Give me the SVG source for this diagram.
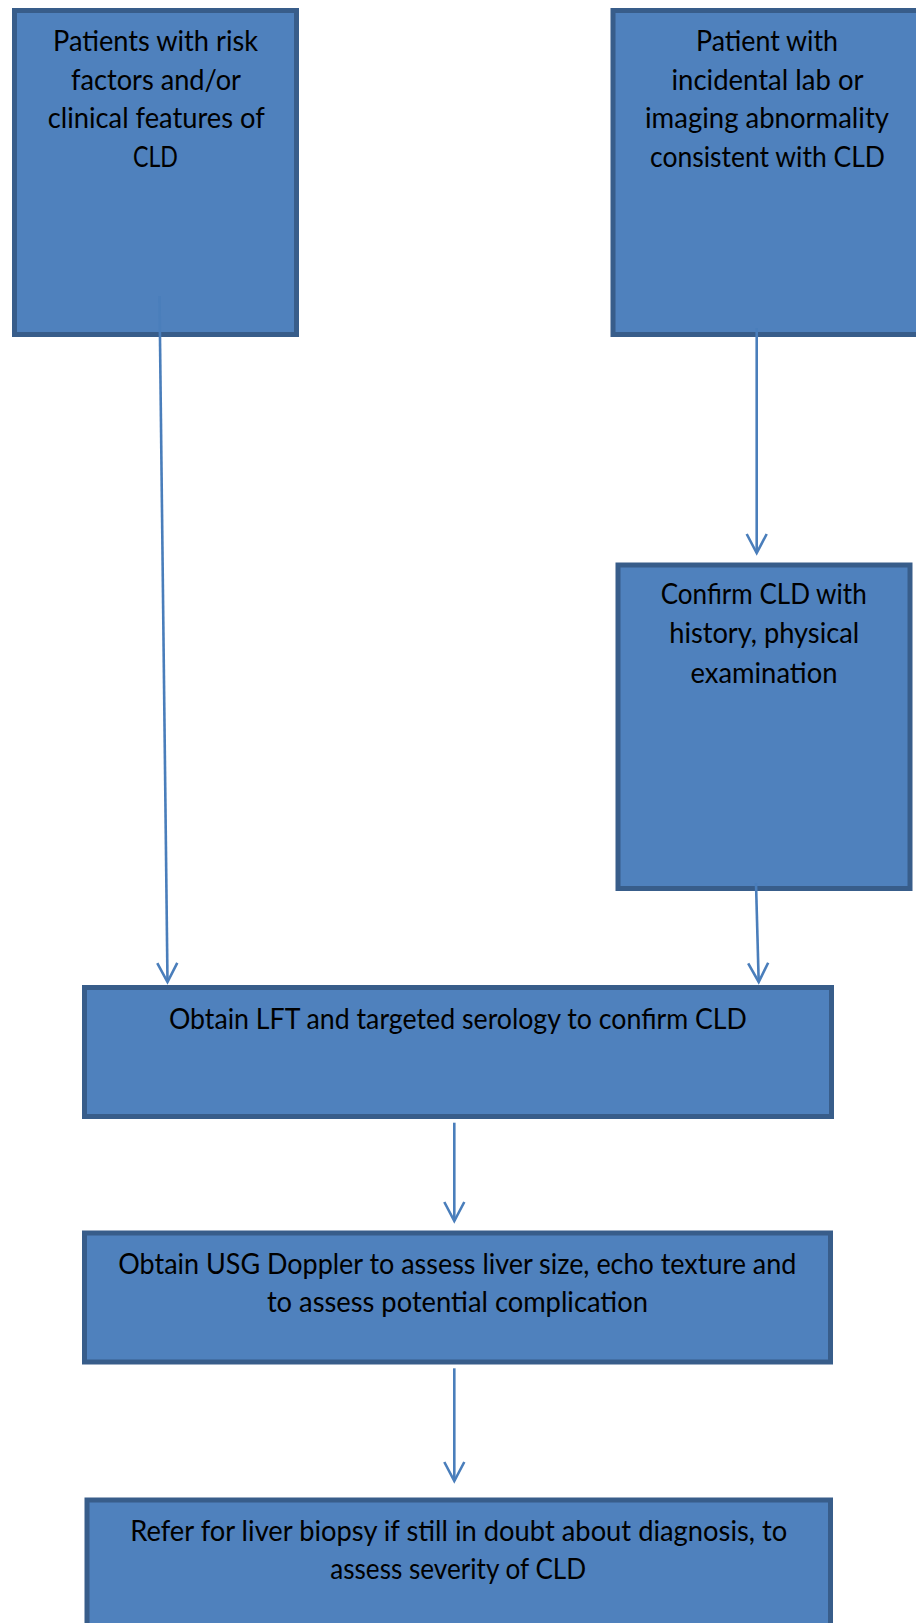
<svg xmlns="http://www.w3.org/2000/svg" width="916" height="1623" viewBox="0 0 916 1623">
  <style>
    .box { fill: #4F81BD; stroke: #385D8A; stroke-width: 5; }
    .lbl { font-family: Lato, "Open Sans", "Liberation Sans", sans-serif; font-size: 28px; fill: #000; text-anchor: middle; }
    .conn { fill: none; stroke: #4A7EBB; stroke-width: 2.6; }
  </style>
  <defs>
    <marker id="openArrow" markerUnits="userSpaceOnUse" viewBox="-22 -12 24 24" markerWidth="24" markerHeight="24" refX="0" refY="0" orient="auto" overflow="visible">
      <path d="M -19 -10 L 0 0 L -19 10" fill="none" stroke="#4A7EBB" stroke-width="2.6" stroke-linejoin="miter"/>
    </marker>
  </defs>
  <rect width="916" height="1623" fill="#ffffff"/>

  <g id="risk-factors">
    <rect class="box" x="14.5" y="10.5" width="282" height="324"/>
    <text class="lbl" x="155.5" y="51" textLength="205" lengthAdjust="spacingAndGlyphs">Patients with risk</text>
    <text class="lbl" x="156" y="89.5" textLength="170" lengthAdjust="spacingAndGlyphs">factors and/or</text>
    <text class="lbl" x="156.3" y="128" textLength="217" lengthAdjust="spacingAndGlyphs">clinical features of</text>
    <text class="lbl" x="155.5" y="166.5" textLength="45" lengthAdjust="spacingAndGlyphs">CLD</text>
  </g>

  <g id="incidental-finding">
    <rect class="box" x="613" y="10.5" width="310" height="324"/>
    <text class="lbl" x="767" y="51" textLength="142" lengthAdjust="spacingAndGlyphs">Patient with</text>
    <text class="lbl" x="767.5" y="89.5" textLength="192" lengthAdjust="spacingAndGlyphs">incidental lab or</text>
    <text class="lbl" x="767" y="128" textLength="244" lengthAdjust="spacingAndGlyphs">imaging abnormality</text>
    <text class="lbl" x="767.5" y="166.5" textLength="235" lengthAdjust="spacingAndGlyphs">consistent with CLD</text>
  </g>

  <g id="confirm-clinical">
    <rect class="box" x="618" y="565" width="292" height="323.5"/>
    <text class="lbl" x="763.7" y="604" textLength="206" lengthAdjust="spacingAndGlyphs">Confirm CLD with</text>
    <text class="lbl" x="764.2" y="643.3" textLength="190" lengthAdjust="spacingAndGlyphs">history, physical</text>
    <text class="lbl" x="764" y="682.7" textLength="147" lengthAdjust="spacingAndGlyphs">examination</text>
  </g>

  <g id="lft-serology">
    <rect class="box" x="84.5" y="987.5" width="747" height="129"/>
    <text class="lbl" x="457.9" y="1029" textLength="578" lengthAdjust="spacingAndGlyphs">Obtain LFT and targeted serology to confirm CLD</text>
  </g>

  <g id="usg-doppler">
    <rect class="box" x="84.5" y="1233" width="746" height="129"/>
    <text class="lbl" x="457.3" y="1274" textLength="678" lengthAdjust="spacingAndGlyphs">Obtain USG Doppler to assess liver size, echo texture and</text>
    <text class="lbl" x="457.4" y="1312" textLength="381" lengthAdjust="spacingAndGlyphs">to assess potential complication</text>
  </g>

  <g id="liver-biopsy">
    <rect class="box" x="87" y="1500" width="743.5" height="200"/>
    <text class="lbl" x="458.7" y="1541" textLength="657" lengthAdjust="spacingAndGlyphs">Refer for liver biopsy if still in doubt about diagnosis, to</text>
    <text class="lbl" x="458.2" y="1579" textLength="256" lengthAdjust="spacingAndGlyphs">assess severity of CLD</text>
  </g>

  <g id="connectors">
    <path class="conn" d="M159.5,296 L167.5,982" marker-end="url(#openArrow)"/>
    <path class="conn" d="M756.7,328 L756.7,553" marker-end="url(#openArrow)"/>
    <path class="conn" d="M756,883 L758.7,982" marker-end="url(#openArrow)"/>
    <path class="conn" d="M454.3,1122.7 L454.3,1221" marker-end="url(#openArrow)"/>
    <path class="conn" d="M454.3,1368.3 L454.3,1481" marker-end="url(#openArrow)"/>
  </g>
</svg>
